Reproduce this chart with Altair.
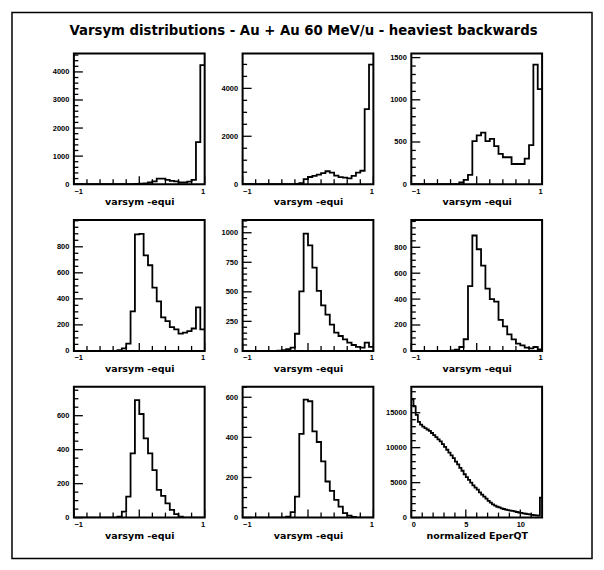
import altair as alt
import pandas as pd
import numpy as np

TITLE = ["Varsym distributions - Au + Au 60 MeV/u - heaviest backwards"]
XTITLE_VARSYM = "varsym -equi"
XTITLE_EPQT = "normalized EperQT"

# 30 bins over [-1, 1]
VARSYM_EDGES = list(np.round(np.linspace(-1.0, 1.0, 31), 5))
# 60 bins over [0, 12]
EPQT_EDGES = list(np.round(np.linspace(0.0, 12.0, 61), 5))

P1 = [0]*13 + [5, 10, 15, 25, 60, 100, 200, 200, 150, 120, 100, 60, 60, 90, 150, 1500, 4240]
P2 = [0]*12 + [10, 40, 210, 300, 350, 400, 460, 540, 480, 360, 290, 270, 240, 350, 480, 560, 3130, 4990]
P3 = [0]*11 + [20, 50, 110, 510, 578, 610, 510, 538, 450, 358, 319, 319, 239, 239, 239, 303, 462, 1418, 1127]
P4 = [0]*10 + [5, 20, 56, 304, 895, 899, 734, 658, 486, 380, 258, 228, 182, 165, 132, 140, 152, 172, 334, 165]
P5 = [0]*8 + [3, 6, 14, 28, 145, 503, 992, 894, 704, 508, 385, 307, 223, 154, 126, 98, 70, 50, 34, 28, 70, 34]
P6 = [0]*9 + [4, 10, 30, 90, 500, 891, 785, 658, 481, 400, 380, 240, 190, 127, 89, 56, 43, 25, 20, 30, 12]
P7 = [0]*10 + [5, 35, 124, 378, 692, 610, 467, 378, 280, 163, 128, 84, 45, 20, 6] + [0]*5
P8 = [0]*10 + [5, 27, 105, 417, 588, 580, 430, 377, 280, 180, 133, 88, 55, 22, 10, 3] + [0]*4
P9 = [16900, 15900, 14700, 13700, 13300, 13000, 12800, 12600, 12400, 12100,
      11800, 11500, 11200, 10900, 10500, 10100, 9700, 9300, 8900, 8500,
      8000, 7600, 7100, 6700, 6200, 5800, 5400, 5000, 4600, 4300,
      4000, 3600, 3300, 3000, 2700, 2400, 2150, 1900, 1700, 1550,
      1450, 1330, 1230, 1140, 1060, 1000, 950, 880, 800, 730,
      670, 610, 550, 490, 450, 400, 360, 320, 290, 2860]

VARSYM_XLABELS = [-1, 0, 1]
VARSYM_XMINOR = [-0.8, -0.6, -0.4, -0.2, 0.2, 0.4, 0.6, 0.8]
EPQT_XLABELS = [0, 5, 10]
EPQT_XMINOR = [1, 2, 3, 4, 6, 7, 8, 9, 11]

# (values, y-domain max, y labels, y minor step)
PANELS = [
    (P1, 4660, [0, 1000, 2000, 3000, 4000], 200),
    (P2, 5460, [0, 2000, 4000], 500),
    (P3, 1550, [0, 500, 1000, 1500], 100),
    (P4, 1005, [0, 200, 400, 600, 800], 50),
    (P5, 1107, [0, 250, 500, 750, 1000], 50),
    (P6, 1010, [0, 200, 400, 600, 800], 50),
    (P7, 770, [0, 200, 400, 600], 50),
    (P8, 652, [0, 200, 400, 600], 50),
    (P9, 18700, [0, 5000, 10000, 15000], 1000),
]

W = 131
H = 131


def make_panel(edges, values, xdom, ydom, xlabels, xminor, ylabels, yminor, xtitle, extra=None):
    df = pd.DataFrame({"x": edges, "y": list(values) + [values[-1]]})
    xsc = alt.Scale(domain=xdom, nice=False, zero=False)
    ysc = alt.Scale(domain=ydom, nice=False, zero=True)
    hist = alt.Chart(df).mark_line(interpolate="step-after", color="black", strokeWidth=1.8, clip=True).encode(
        x=alt.X("x:Q", scale=xsc,
                axis=alt.Axis(values=xlabels, format="d", ticks=False, domain=False, grid=False,
                              title=xtitle, labelPadding=3, titlePadding=2)),
        y=alt.Y("y:Q", scale=ysc,
                axis=alt.Axis(values=ylabels, format="d", ticks=False, domain=False, grid=False,
                              title=None, labelPadding=5)),
    )

    def xticks(vals, length):
        return alt.Chart(pd.DataFrame({"x": vals})).mark_rule(color="black", strokeWidth=1.3).encode(
            x=alt.X("x:Q", scale=xsc, axis=None), y=alt.value(H), y2=alt.value(H - length))

    def yticks(vals, length):
        return alt.Chart(pd.DataFrame({"y": vals})).mark_rule(color="black", strokeWidth=1.3).encode(
            y=alt.Y("y:Q", scale=ysc, axis=None), x=alt.value(0), x2=alt.value(length))

    ymin_vals = [v for v in np.arange(0, ydom[1], yminor).tolist() if v not in ylabels]
    layers = [hist, xticks(xlabels, 8), xticks(xminor, 5), yticks(ylabels, 9), yticks(ymin_vals, 4.5)]
    if extra:
        layers += extra
    return alt.layer(*layers).resolve_axis(x="independent", y="independent").properties(width=W, height=H)


border = alt.Chart(pd.DataFrame({"a": [0]})).mark_rect(
    fillOpacity=0, stroke="black", strokeWidth=1.5
).encode(x=alt.value(-62), x2=alt.value(519), y=alt.value(-41), y2=alt.value(506))

title = alt.Chart(pd.DataFrame({"t": TITLE})).mark_text(
    font="DejaVu Sans", fontWeight="bold", fontSize=13.3, align="center", baseline="middle", color="black"
).encode(text="t:N", x=alt.value(230), y=alt.value(-22))

charts = []
for i, (vals, ymax, ylabels, yminor) in enumerate(PANELS):
    if i < 8:
        c = make_panel(VARSYM_EDGES, vals, [-1, 1], [0, ymax], VARSYM_XLABELS,
                       VARSYM_XMINOR, ylabels, yminor, XTITLE_VARSYM,
                       extra=[border, title] if i == 0 else None)
    else:
        c = make_panel(EPQT_EDGES, vals, [0, 12], [0, ymax], EPQT_XLABELS,
                       EPQT_XMINOR, ylabels, yminor, XTITLE_EPQT)
    charts.append(c)

chart = alt.ConcatChart(
    concat=charts, columns=3, spacing={"row": 36, "column": 38}, bounds="flush"
).properties(
    padding={"left": 2, "top": 2, "right": 2, "bottom": 2}
).configure_view(
    stroke="black", strokeWidth=2
).configure_axis(
    labelFont="Liberation Sans", labelFontSize=7.5, labelFontWeight="bold", labelColor="black",
    titleFont="DejaVu Sans", titleFontSize=9.5, titleFontWeight="bold", titleColor="black"
)

chart.save("out.html", embed_options={"renderer": "svg", "actions": False})
